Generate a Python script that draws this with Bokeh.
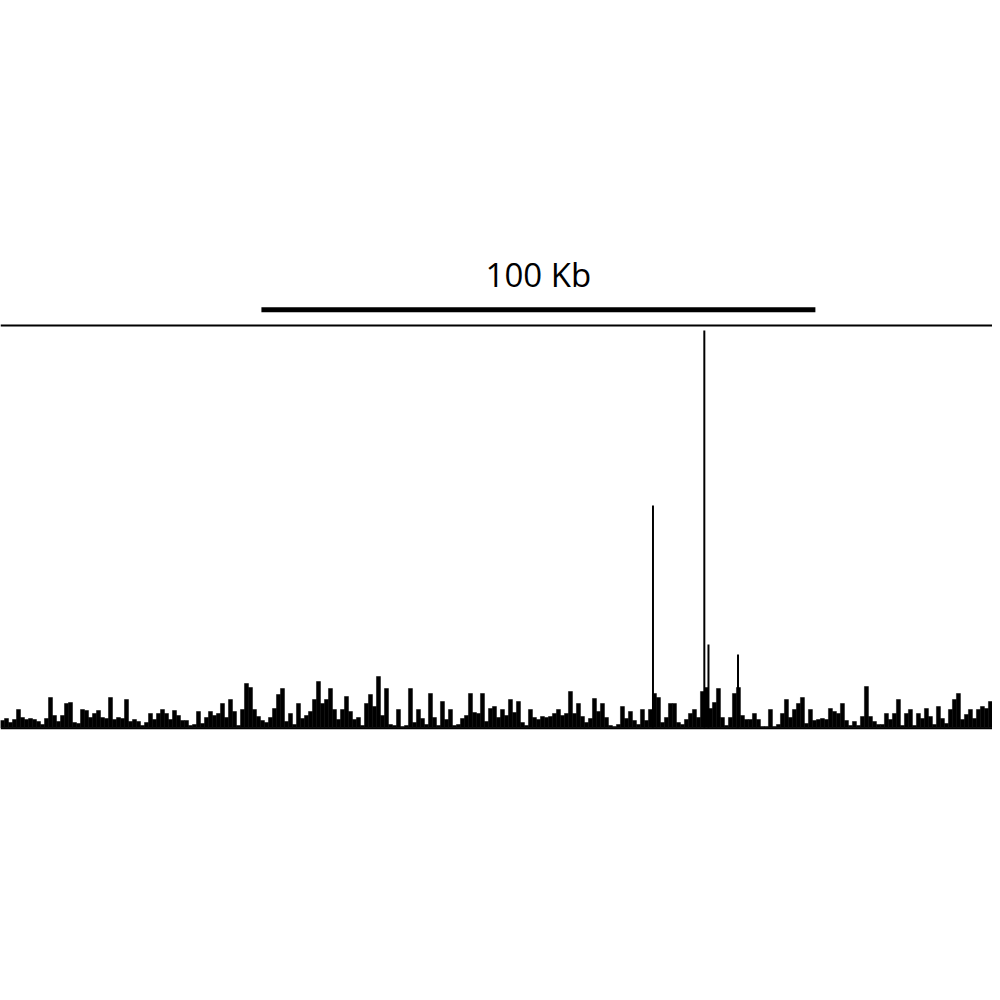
from bokeh.plotting import figure
from bokeh.models import Range1d, Span, ColumnDataSource
from bokeh.embed import file_html
from bokeh.resources import INLINE
from bokeh.core.properties import value

# ---- data -------------------------------------------------------------
# genomic view (kb); scale bar is 100 kb long
view_start_kb = 0.0
view_end_kb = 180.5
bin_kb = 0.722          # width of one signal bin
scale_start_kb = 47.1
scale_len_kb = 100.0
scale_label = "100 Kb"
track_max = 402         # data value at the top line of the track

# signal per bin, bins start at view_start_kb
signal = [
    7, 9, 5, 8, 18, 10, 8, 9, 8, 6, 3, 9, 30, 12, 6, 12, 24, 25, 5, 4, 18, 17, 10, 14, 17, 10, 9, 30, 8, 10, 9,
    28, 6, 8, 6, 2, 5, 14, 8, 14, 18, 14, 8, 17, 12, 7, 7, 2, 3, 16, 4, 10, 16, 12, 14, 24, 10, 28, 16, 2, 18, 44,
    40, 18, 11, 7, 5, 10, 19, 33, 39, 6, 14, 3, 24, 9, 12, 16, 28, 46, 24, 28, 39, 18, 8, 18, 31, 16, 8, 10, 2, 24, 33, 21,
    51, 12, 39, 3, 2, 18, 1, 2, 39, 5, 18, 9, 3, 34, 10, 2, 26, 8, 18, 2, 3, 9, 12, 34, 15, 14, 34, 6, 19, 21, 10,
    18, 12, 28, 15, 26, 5, 2, 18, 10, 8, 11, 10, 11, 14, 18, 12, 14, 36, 14, 24, 11, 5, 9, 29, 16, 24, 10, 2, 1, 3, 21,
    9, 16, 7, 3, 18, 7, 18, 34, 30, 5, 10, 24, 24, 5, 3, 8, 14, 18, 10, 36, 40, 19, 25, 39, 10, 2, 10, 34, 40, 12, 8, 8,
    14, 8, 1, 1, 18, 1, 3, 14, 28, 10, 18, 24, 30, 4, 18, 7, 8, 9, 8, 19, 16, 14, 24, 7, 2, 6, 2, 11, 41, 11, 6,
    3, 3, 14, 8, 14, 28, 2, 14, 18, 2, 14, 9, 19, 11, 3, 21, 9, 4, 18, 28, 34, 8, 13, 18, 9, 18, 21, 19, 26, 11, 11,
]

# narrow high peaks (kb position, value)
peak_pos_kb = [117.78, 127.05, 127.80, 133.13]
peak_val = [222, 397, 83, 73]
peak_width_kb = 0.36

# ---- figure -----------------------------------------------------------
W, H = 992, 992
p = figure(width=W, height=H, output_backend="svg", toolbar_location=None,
           x_axis_type=None, y_axis_type=None,
           x_range=Range1d(0.0, 179.07), y_range=Range1d(-265, 727),
           min_border=0, min_border_left=0, min_border_right=0,
           min_border_top=0, min_border_bottom=0)
p.grid.visible = False
p.outline_line_color = None
p.background_fill_color = "white"
p.border_fill_color = "white"

left = [view_start_kb + i * bin_kb for i in range(len(signal))]
right = [l + bin_kb for l in left]
src = ColumnDataSource(dict(left=left, right=right, top=signal, bottom=[0] * len(signal)))
p.quad(left="left", right="right", top="top", bottom="bottom", source=src,
       fill_color="black", line_color="black", line_width=0.5)

p.vbar(x=peak_pos_kb, top=peak_val, bottom=0, width=peak_width_kb,
       fill_color="black", line_color=None)

# track frame lines
p.add_layout(Span(location=track_max, dimension="width", line_color="black", line_width=2))
p.add_layout(Span(location=-0.8, dimension="width", line_color="black", line_width=2))

# scale bar
p.segment(x0=[scale_start_kb], y0=[417.8], x1=[scale_start_kb + scale_len_kb], y1=[417.8],
          line_color="black", line_width=5, line_cap="butt")
p.text(x=[scale_start_kb + scale_len_kb / 2], y=[453], text=[scale_label],
       text_font=value("Open Sans"), text_font_size="33px", text_color="black",
       text_align="center", text_baseline="alphabetic")

open("out.html", "w").write(file_html(p, INLINE))
